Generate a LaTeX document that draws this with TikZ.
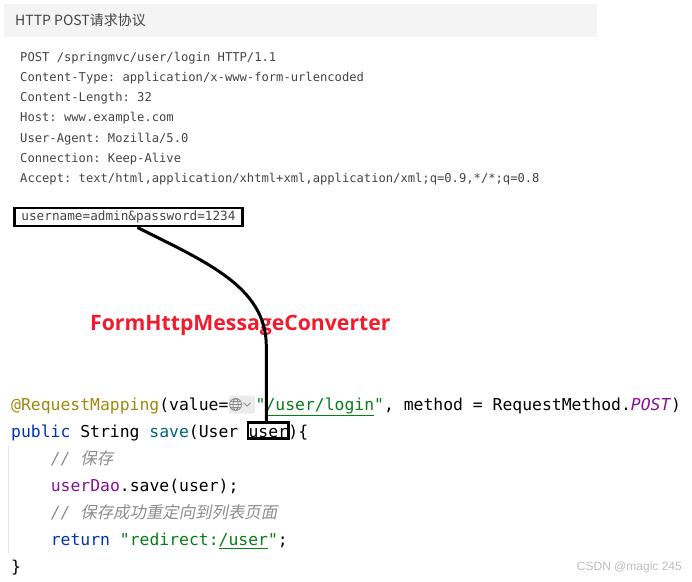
\documentclass[tikz,border=0pt]{standalone}
\usepackage{fontspec}
\usepackage{xcolor}
\usetikzlibrary{positioning,fit,calc}

\newfontfamily\cjk{Noto Sans CJK SC}
\newfontfamily\cjkit[FakeSlant=0.2]{Noto Sans CJK SC}
\newfontfamily\codemono{DejaVu Sans Mono}
\newfontfamily\convfont{Open Sans}
\newfontfamily\wmfont{Liberation Sans}

\newcommand\codefont{\codemono\fontsize{16.4}{20}\selectfont\frenchspacing}
\newcommand\httpfont{\codemono\fontsize{12.15}{14}\selectfont\frenchspacing}

\definecolor{annotc}{HTML}{9E880D}
\definecolor{strgc}{HTML}{067D17}
\definecolor{kwc}{HTML}{0033B3}
\definecolor{methc}{HTML}{00627A}
\definecolor{fieldc}{HTML}{871094}
\definecolor{cmtc}{HTML}{8C8C8C}
\definecolor{hdrbgc}{HTML}{F4F4F4}
\definecolor{hintbgc}{HTML}{EBEBEB}
\definecolor{iconc}{HTML}{8C8C8C}
\definecolor{convc}{HTML}{F21B2D}
\definecolor{wmc}{HTML}{BDBDBD}
\definecolor{httpc}{HTML}{444444}
\definecolor{guidec}{HTML}{E6E6E6}

\begin{document}
\begin{tikzpicture}[x=1pt,y=1pt,
  code/.style={inner sep=0pt,anchor=base west,font=\codefont},
  http/.style={inner sep=0pt,anchor=base west,font=\httpfont,text=httpc},
  hint/.style={fill=hintbgc,rounded corners=2pt,minimum width=26pt,minimum height=18pt,inner sep=0pt},
  framed/.style={draw,line width=2.6pt},
  link/.style={line width=3pt}]

  \useasboundingbox (0,0) rectangle (692,-581);

  % request header box
  \fill[hdrbgc] (4,-4) rectangle (597,-37);
  \node[inner sep=0pt,anchor=west,font=\cjk\fontsize{14}{16}\selectfont,text=httpc] (title) at (15,-20.5) {HTTP POST请求协议};

  \node[http] (h1) at (20,-61) {POST /springmvc/user/login HTTP/1.1};
  \node[http] (h2) at (20,-81.3) {Content-Type: application/x-www-form-urlencoded};
  \node[http] (h3) at (20,-101.6) {Content-Length: 32};
  \node[http] (h4) at (20,-121.9) {Host: www.example.com};
  \node[http] (h5) at (20,-142.2) {User-Agent: Mozilla/5.0};
  \node[http] (h6) at (20,-162.5) {Connection: Keep-Alive};
  \node[http] (h7) at (20,-182.8) {Accept: text/html,application/xhtml+xml,application/xml;q=0.9,*/*;q=0.8};

  \node[http,framed,anchor=center,font=\codemono\fontsize{12.7}{14}\selectfont,inner xsep=7pt,inner ysep=3pt] (body) at (128.5,-217) {username=admin\&password=1234};

  \node[inner sep=0pt,anchor=west,font=\convfont\bfseries\fontsize{21.2}{24}\selectfont,text=convc] (conv) at (90,-325) {FormHttpMessageConverter};

  % controller code
  \draw[guidec,line width=1pt] (8,-446) -- (8,-553);

  \node[code] (req) at (11,-410) {\textcolor{annotc}{@RequestMapping}(value=};
  \node[hint,right=0pt of req.base east,yshift=5.5pt] (hnt) {};
  \coordinate (g) at ([xshift=7pt]hnt.west);
  \draw[iconc,line width=0.8pt] (g) circle (6pt) (g) ellipse (2.6pt and 6pt)
    ([xshift=-6pt]g) -- ([xshift=6pt]g)
    ([xshift=-5pt,yshift=3.1pt]g) -- ([xshift=5pt,yshift=3.1pt]g)
    ([xshift=-5pt,yshift=-3.1pt]g) -- ([xshift=5pt,yshift=-3.1pt]g);
  \draw[iconc,line width=0.9pt] ([xshift=15pt,yshift=1.8pt]hnt.west) -- ([xshift=18.5pt,yshift=-1.7pt]hnt.west) -- ([xshift=22pt,yshift=1.8pt]hnt.west);
  \node[code] (req2) at ([xshift=0.5pt]hnt.east |- req.base) {\textcolor{strgc}{"\underline{/user/login}"}, method = RequestMethod.\textcolor{fieldc}{\textit{POST}})};

  \node[code] (pub) at (11,-437) {\textcolor{kwc}{public} String \textcolor{methc}{save}(User\ \null};
  \node[code] (usr) at (pub.base east) {user};
  \node[code] (brc) at (usr.base east) {)\{};
  \coordinate (utop) at ([yshift=4pt]usr.north east);
  \node[framed,inner xsep=0.5pt,inner ysep=1pt,fit=(usr.south west) (utop)] (ubox) {};

  \node[code] (c1) at (50.6,-464) {\textcolor{cmtc}{\textit{//}\ \cjkit 保存}};
  \node[code] (dao) at (50.6,-491) {\textcolor{fieldc}{userDao}.save(user);};
  \node[code] (c2) at (50.6,-518) {\textcolor{cmtc}{\textit{//}\ \cjkit 保存成功重定向到列表页面}};
  \node[code] (ret) at (50.6,-545) {\textcolor{kwc}{return} \textcolor{strgc}{"redirect:\underline{/user}"};};
  \node[code] (cls) at (11,-572) {\}};

  \node[inner sep=0pt,anchor=east,font=\wmfont\fontsize{12}{14}\selectfont,text=wmc] (mark) at (682,-567) {CSDN @magic 245};

  % body -> parameter
  \draw[link] ([xshift=9pt]body.south) .. controls +(67,-34) and +(0,60) .. ([xshift=-2pt,yshift=75pt]ubox.north) -- ([xshift=-2pt]ubox.north);
\end{tikzpicture}
\end{document}
